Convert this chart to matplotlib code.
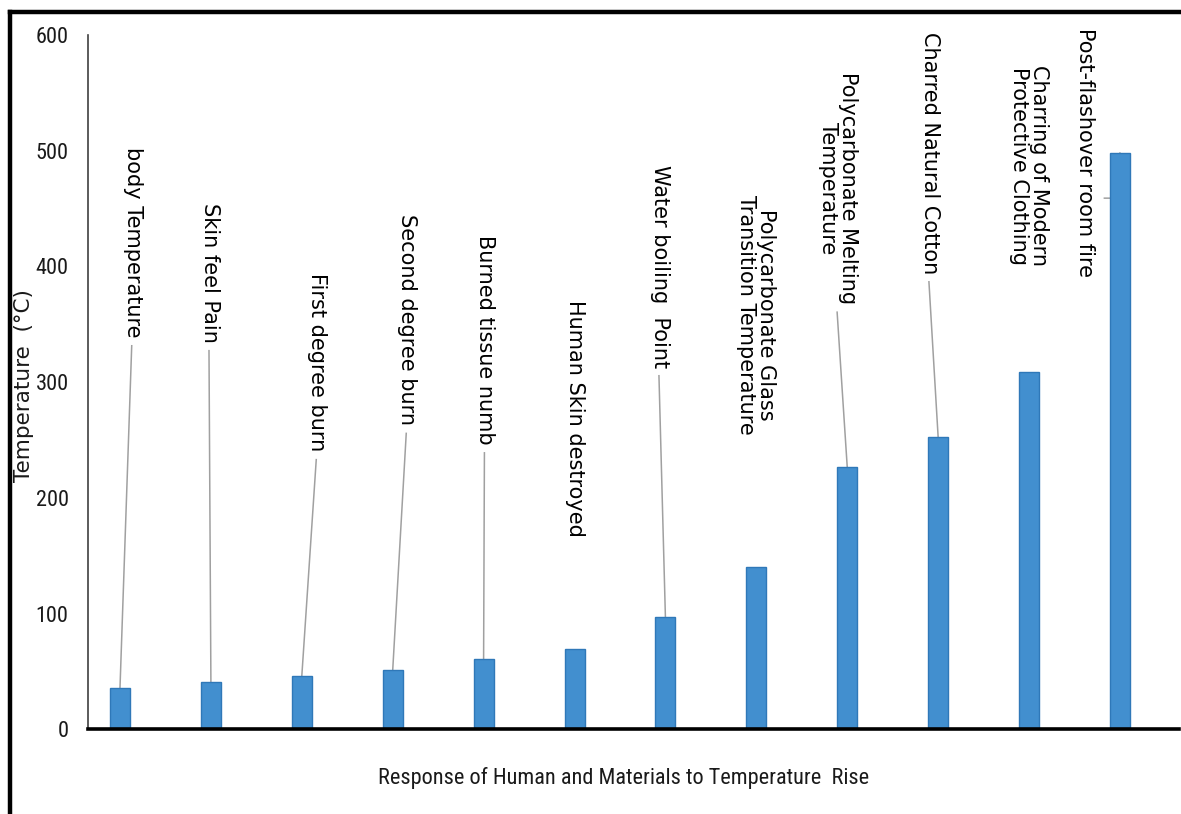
"""
bar chart: response of humans and materials to temperature rise
"""

import matplotlib

matplotlib.use("Agg")
import matplotlib.pyplot as plt
import numpy as np
from matplotlib import font_manager
from matplotlib.lines import Line2D

categories = [
    "body Temperature",
    "Skin feel Pain",
    "First degree burn",
    "Second degree burn",
    "Burned tissue numb",
    "Human Skin destroyed",
    "Water boiling  Point",
    "Polycarbonate Glass\nTransition Temperature",
    "Polycarbonate Melting\nTemperature",
    "Charred Natural Cotton",
    "Charring of Modern\nProtective Clothing",
    "Post-flashover room fire",
]
temperatures = [36, 41, 46, 51, 61, 69, 97, 140, 227, 253, 309, 498]
y_ticks = [0, 100, 200, 300, 400, 500, 600]

# label layout (offset from bar centre in category units, top of label in data units)
label_dx = [0.14, -0.01, 0.17, 0.16, 0.02, 0.0, -0.06, 0.0, -0.1, -0.09, 0.0, -0.38]
label_top = [503, 455, 394, 445, 427, 371, 488, 462, 568, 603, 574, 606]
has_leader = [True, True, True, True, True, False, True, False, True, True, False, True]

W, H = 1181, 814
fig = plt.figure(figsize=(W / 100, H / 100), dpi=100)
ax = fig.add_axes([88 / W, (H - 729.3) / H, (1179 - 88) / W, (729.3 - 35) / H])

installed = {f.name for f in font_manager.fontManager.ttflist}
narrow = next(
    (n for n in ["Liberation Sans Narrow", "Roboto Condensed", "Open Sans Condensed"] if n in installed),
    None,
)
if narrow:
    tick_font = dict(family=narrow, size=16)
    xlab_font = dict(family=narrow, size=16)
else:
    tick_font = dict(family="DejaVu Sans", size=12)
    xlab_font = dict(family="DejaVu Sans", size=12.5)

x = np.arange(len(categories))
ax.bar(
    x,
    temperatures,
    width=0.22,
    color="#428fcf",
    edgecolor="#2f78b8",
    linewidth=1,
    zorder=3,
)

ax.set_xlim(-0.352, 11.65)
ax.set_ylim(0, 600)
ax.set_yticks(y_ticks)
ax.set_yticklabels([str(v) for v in y_ticks], fontdict=tick_font)
ax.tick_params(axis="y", length=0, pad=14, colors="#1a1a1a")
ax.set_xticks([])
for side in ["top", "right"]:
    ax.spines[side].set_visible(False)
ax.spines["left"].set_color("#404040")
ax.spines["left"].set_linewidth(1.2)
ax.spines["bottom"].set_color("black")
ax.spines["bottom"].set_linewidth(2.6)
ax.spines["bottom"].set_zorder(5)

texts = []
for i, name in enumerate(categories):
    t = ax.text(
        i + label_dx[i],
        label_top[i],
        name,
        rotation=270,
        ha="center",
        va="top",
        multialignment="center",
        fontsize=15,
        family="DejaVu Sans",
        color="black",
        linespacing=1.0,
        clip_on=False,
    )
    texts.append(t)

fig.text(
    24 / W,
    1 - 386 / H,
    "Temperature  (°C)",
    rotation=90,
    ha="center",
    va="center",
    fontsize=15.5,
    family="DejaVu Sans",
    color="#1a1a1a",
)
fig.text(
    624 / W,
    1 - 778 / H,
    "Response of Human and Materials to Temperature  Rise",
    ha="center",
    va="center",
    color="#1a1a1a",
    fontfamily=xlab_font["family"],
    fontsize=xlab_font["size"],
)

# leader lines from labels to bar tops
fig.canvas.draw()
renderer = fig.canvas.get_renderer()
inv = ax.transData.inverted()
for i, t in enumerate(texts):
    if not has_leader[i]:
        continue
    bb = t.get_window_extent(renderer)
    if i == len(categories) - 1:
        # side leader for the last label
        xr, _ = inv.transform((bb.x1 + 9, 0))
        xs = [xr, xr + 0.09, i]
        ys = [459, 459, temperatures[i]]
    else:
        x0, y0 = inv.transform(((bb.x0 + bb.x1) / 2 - 1, bb.y0 - 8))
        xs = [x0, i]
        ys = [y0, temperatures[i]]
    ax.plot(xs, ys, color="#a0a0a0", linewidth=1.1, zorder=2, clip_on=False)

# outer frame (left and top edges)
fig.add_artist(
    Line2D([10 / W, 10 / W], [0, 1 - 12 / H], transform=fig.transFigure, color="black", linewidth=3.2)
)
fig.add_artist(
    Line2D([10 / W, 1], [1 - 12 / H, 1 - 12 / H], transform=fig.transFigure, color="black", linewidth=3.2)
)

fig.savefig("out.png", dpi=100)
